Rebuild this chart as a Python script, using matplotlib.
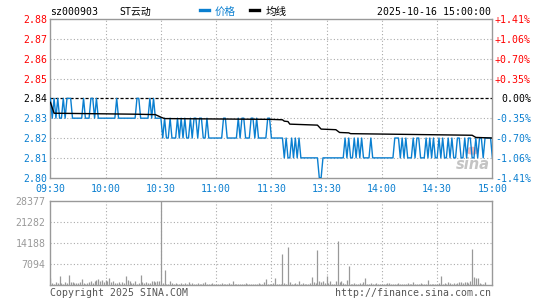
import numpy as np
import matplotlib
matplotlib.use("Agg")
import matplotlib.pyplot as plt
from matplotlib.lines import Line2D
from matplotlib.patches import Ellipse

plt.rcParams['font.family'] = ['DejaVu Sans Mono', 'Noto Sans CJK SC']

# ---- data ----
symbol = "sz000903"
name = "ST云动"
stamp = "2025-10-16 15:00:00"
prev_close = 2.84

time_labels = ["09:30", "10:00", "10:30", "11:00", "11:30", "13:30", "14:00", "14:30", "15:00"]
price_ticks = [2.80, 2.81, 2.82, 2.83, 2.84, 2.85, 2.86, 2.87, 2.88]
pct_labels = ["-1.41%", "-1.06%", "-0.70%", "-0.35%", "0.00%", "+0.35%", "+0.70%", "+1.06%", "+1.41%"]
vol_ticks = [7094, 14188, 21282, 28377]

# minute prices in cents (2.8x), one list per half hour
p_0930 = [284, 283, 284, 283, 284, 283, 283, 284, 283, 284, 284, 284, 283, 283, 283, 283,
          283, 283, 284, 283, 283, 283, 284, 284, 283, 284, 283, 283, 283, 283, 283]
p_1000 = [283, 283, 283, 283, 283, 284, 283, 283, 283, 283, 283, 283, 283, 283, 283,
          283, 284, 284, 283, 283, 283, 283, 283, 284, 283, 284, 283, 283, 283, 283]
p_1030 = [282, 283, 282, 282, 283, 282, 282, 282, 283, 282, 283, 282, 283, 282, 282,
          283, 282, 283, 283, 282, 283, 283, 282, 282, 283, 282, 282, 282, 282, 282]
p_1100 = [282, 282, 282, 283, 283, 282, 282, 282, 282, 282, 282, 283, 282, 283, 283,
          282, 282, 282, 283, 283, 282, 283, 282, 282, 282, 282, 282, 283, 283, 282]
p_1300 = [282, 282, 282, 282, 282, 282, 281, 282, 281, 281, 282, 281, 282, 281, 282,
          281, 281, 281, 281, 281, 281, 281, 281, 281, 281, 280, 280, 281, 281, 281]
p_1330 = [281, 281, 281, 281, 281, 281, 281, 281, 281, 282, 281, 282, 281, 281, 282,
          281, 282, 281, 282, 281, 281, 281, 281, 282, 281, 281, 281, 281, 281, 281]
p_1400 = [281, 281, 281, 281, 281, 281, 282, 282, 282, 281, 282, 281, 282, 281, 281,
          281, 282, 281, 282, 282, 281, 281, 281, 282, 281, 282, 281, 282, 281, 281]
p_1430 = [282, 281, 282, 281, 281, 282, 281, 282, 281, 281, 282, 282, 281, 281, 282,
          281, 282, 282, 281, 281, 282, 281, 282, 282, 281, 282, 282, 282, 282, 281]

# average price line, read at its turning points (minute, price)
avg_minutes = [0, 2, 47, 57, 60, 62, 120, 126, 127, 129, 130, 145, 147, 155, 157,
               162, 163, 229, 231, 240]
avg_values = [2.838, 2.8325, 2.832, 2.8318, 2.8305, 2.8298, 2.8294, 2.8292, 2.8285,
              2.8283, 2.8270, 2.8265, 2.8245, 2.8242, 2.8228, 2.8226, 2.8222, 2.8214,
              2.8203, 2.8200]

# minute volumes, one list per half hour
v_0930 = [2480, 700, 500, 900, 600, 3150, 800, 500, 900, 700, 3380, 1000, 900, 800, 700, 600,
          1100, 2000, 700, 500, 600, 900, 1300, 700, 1400, 1600, 2100, 1200, 1700, 900, 1800]
v_1000 = [1200, 2360, 900, 1500, 700, 600, 900, 500, 1100, 700, 3150, 1600, 1300, 800, 700,
          1200, 500, 600, 3380, 900, 700, 1100, 600, 800, 1300, 1400, 900, 1500, 1200, 28377]
v_1030 = [700, 5070, 400, 500, 1300, 600, 300, 800, 500, 400, 600, 300, 700, 500, 1100,
          400, 600, 300, 500, 800, 400, 300, 600, 1000, 500, 400, 300, 700, 400, 300]
v_1100 = [400, 300, 600, 500, 300, 400, 700, 300, 1200, 500, 400, 300, 500, 400, 300,
          600, 300, 400, 500, 300, 400, 300, 600, 500, 300, 900, 1900, 400, 300, 500]
v_1300 = [600, 2480, 400, 300, 500, 10470, 600, 400, 12840, 900, 400, 300, 700, 500, 1300,
          400, 600, 300, 500, 400, 800, 2700, 1000, 600, 11820, 1500, 900, 1300, 800, 3150]
v_1330 = [700, 1200, 400, 300, 1500, 14860, 900, 1300, 600, 400, 1600, 6420, 500, 400, 700,
          300, 500, 600, 400, 900, 2360, 500, 400, 700, 300, 500, 600, 400, 300, 500]
v_1400 = [400, 300, 600, 700, 400, 300, 500, 400, 800, 300, 400, 500, 300, 600, 400,
          300, 900, 400, 300, 500, 600, 400, 300, 500, 1800, 400, 300, 500, 400, 300]
v_1430 = [600, 3040, 500, 700, 400, 1100, 600, 400, 800, 500, 700, 900, 1000, 800, 1100,
          900, 700, 1200, 12160, 2700, 2300, 2400, 600, 400, 300, 1100, 0, 0, 0, 0]

prices = np.array(p_0930 + p_1000 + p_1030 + p_1100 + p_1300 + p_1330 + p_1400 + p_1430) / 100
volumes = np.array(v_0930 + v_1000 + v_1030 + v_1100 + v_1300 + v_1330 + v_1400 + v_1430)
minutes = np.arange(len(prices))

BLUE = "#0a7fd0"
RED = "#ff0000"
GRAY = "#999999"
GRID = "#aaaaaa"

W, H = 545, 300


def fx(px):
    return px / W


def fy(py):
    return 1 - py / H


fig = plt.figure(figsize=(W / 100, H / 100), dpi=100)
fig.patch.set_facecolor("white")

x0, x1 = 50.4, 492.4
ax = fig.add_axes([fx(x0), fy(177.7), fx(x1 - x0), (177.7 - 19) / H])
axv = fig.add_axes([fx(x0), fy(285), fx(x1 - x0), (285 - 201) / H])

tick_pos = np.arange(0, 241, 30)

for a in (ax, axv):
    a.set_xlim(0, 240)
    for s in a.spines.values():
        s.set_color(GRAY)
        s.set_linewidth(1.0)
    for t in tick_pos[1:-1]:
        a.axvline(t, color=GRID, lw=0.8, ls=(0, (1, 2)), zorder=1)

# ---- price panel ----
ax.set_ylim(price_ticks[0], price_ticks[-1])
for p in price_ticks[1:-1]:
    if abs(p - prev_close) < 1e-9:
        ax.axhline(p, color="black", lw=0.9, ls=(0, (2.5, 1.5)), zorder=2)
    else:
        ax.axhline(p, color=GRID, lw=0.8, ls=(0, (1, 2)), zorder=1)

ax.plot(minutes, prices, color=BLUE, lw=1.0, zorder=3)
ax.plot(avg_minutes, avg_values, color="black", lw=1.0, zorder=4)

ax.set_xticks(tick_pos)
ax.set_xticklabels(time_labels, color=BLUE, fontsize=7.1)
ax.tick_params(axis="x", length=0, pad=4.5)

ax.set_yticks(price_ticks)
ax.set_yticklabels([f"{p:.2f}" for p in price_ticks], fontsize=7.1)
ax.tick_params(axis="y", length=0, pad=2.4)


def level_color(p):
    if abs(p - prev_close) < 1e-9:
        return "black"
    return RED if p > prev_close else BLUE


for lbl, p in zip(ax.get_yticklabels(), price_ticks):
    lbl.set_color(level_color(p))

ax2 = ax.twinx()
ax2.set_ylim(ax.get_ylim())
ax2.set_yticks(price_ticks)
ax2.set_yticklabels(pct_labels, fontsize=7.1)
ax2.tick_params(axis="y", length=0, pad=27.8)
for lbl, p in zip(ax2.get_yticklabels(), price_ticks):
    lbl.set_color(level_color(p))
    lbl.set_horizontalalignment("right")
for s in ax2.spines.values():
    s.set_visible(False)

# sina watermark
ax.text(0.955, 0.085, "sina", transform=ax.transAxes, fontsize=10.5, fontweight="bold",
        style="italic", color="#c4c4c4", family="DejaVu Sans", ha="center", va="center", zorder=2)
ax.add_patch(Ellipse((0.955, 0.17), 0.03, 0.05, transform=ax.transAxes,
                     facecolor="#f2b8b8", edgecolor="none", zorder=2))

# ---- volume panel ----
axv.set_ylim(0, vol_ticks[-1])
for v in vol_ticks[:-1]:
    axv.axhline(v, color=GRID, lw=0.8, ls=(0, (1, 2)), zorder=1)
axv.vlines(minutes, 0, volumes, color=GRAY, lw=0.9, zorder=3)
axv.set_xticks([])
axv.set_yticks(vol_ticks)
axv.set_yticklabels([str(v) for v in vol_ticks], color=GRAY, fontsize=7.1)
axv.tick_params(axis="y", length=0, pad=3.5)

# ---- header / footer ----
fig.text(fx(50.4), fy(12), symbol, fontsize=7.1, va="center", ha="left")
fig.text(fx(119), fy(12), name, fontsize=7.1, va="center", ha="left")
fig.add_artist(Line2D([fx(200), fx(208.5)], [fy(10), fy(10)], color=BLUE, lw=2.4))
fig.text(fx(215), fy(11.5), "价格", fontsize=7.6, color=BLUE, va="center", ha="left")
fig.add_artist(Line2D([fx(250), fx(258.5)], [fy(10), fy(10)], color="black", lw=2.4))
fig.text(fx(265.5), fy(11.5), "均线", fontsize=7.6, color="black", va="center", ha="left")
fig.text(fx(491), fy(12), stamp, fontsize=7.1, va="center", ha="right")

fig.text(fx(50), fy(293), "Copyright 2025 SINA.COM", fontsize=7.1, color="#555555",
         va="center", ha="left")
fig.text(fx(491), fy(293), "http://finance.sina.com.cn", fontsize=7.1, color="#555555",
         va="center", ha="right")

fig.savefig("out.png", dpi=100)
